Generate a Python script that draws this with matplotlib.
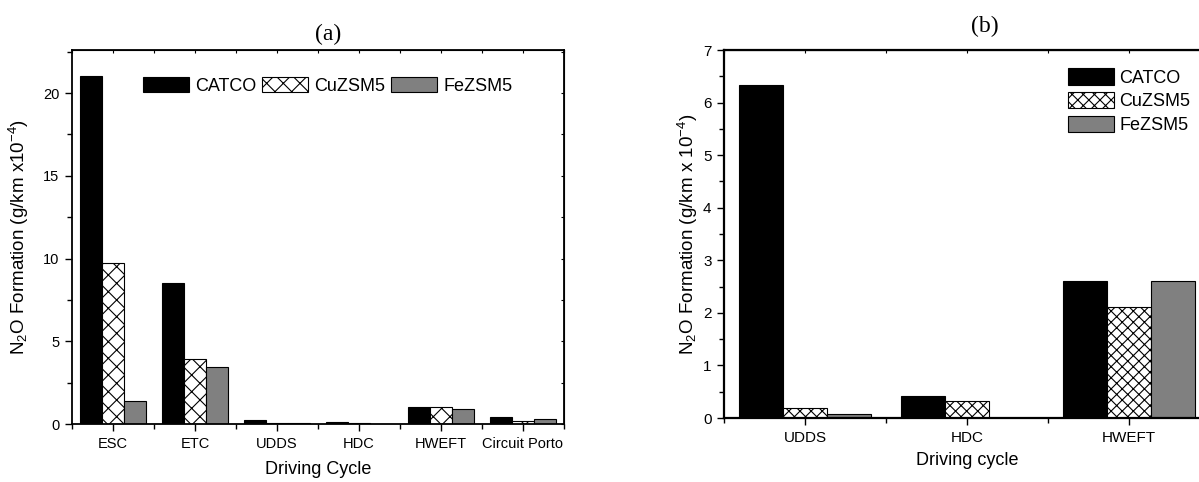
import numpy as np
import matplotlib
matplotlib.use("Agg")
import matplotlib.pyplot as plt
from matplotlib.ticker import MultipleLocator

plt.rcParams['font.family'] = ['Liberation Sans', 'DejaVu Sans']
plt.rcParams['mathtext.fontset'] = 'custom'
plt.rcParams['mathtext.rm'] = 'Liberation Sans'
plt.rcParams['mathtext.default'] = 'regular'
plt.rcParams['hatch.linewidth'] = 0.8

series = ['CATCO', 'CuZSM5', 'FeZSM5']

# panel (a)
cycles_a = ['ESC', 'ETC', 'UDDS', 'HDC', 'HWEFT', 'Circuit Porto']
catco_a = [21.0, 8.5, 0.22, 0.1, 1.05, 0.43]
cuzsm5_a = [9.75, 3.92, 0.08, 0.08, 1.05, 0.2]
fezsm5_a = [1.4, 3.45, 0.08, 0.0, 0.93, 0.32]

# panel (b)
cycles_b = ['UDDS', 'HDC', 'HWEFT']
catco_b = [6.33, 0.41, 2.6]
cuzsm5_b = [0.19, 0.32, 2.12]
fezsm5_b = [0.08, 0.0, 2.6]

W, H = 1199, 482
fig = plt.figure(figsize=(W / 100, H / 100), dpi=100)


def draw(ax, cycles, vals, hatch, ylim, ymaj, ymin, spine_lw):
    x = np.arange(len(cycles))
    w = 0.27
    ax.bar(x - w, vals[0], w, color='black', edgecolor='black', lw=0.8, label=series[0])
    ax.bar(x, vals[1], w, color='white', edgecolor='black', lw=0.8, hatch=hatch, label=series[1])
    ax.bar(x + w, vals[2], w, color='#808080', edgecolor='black', lw=0.8, label=series[2])
    ax.set_xlim(-0.5, len(cycles) - 0.5)
    ax.set_ylim(*ylim)
    ax.set_xticks(x)
    ax.set_xticklabels(cycles)
    ax.xaxis.set_minor_locator(MultipleLocator(0.5))
    ax.yaxis.set_major_locator(MultipleLocator(ymaj))
    ax.yaxis.set_minor_locator(MultipleLocator(ymin))
    ax.tick_params(which='major', direction='out', length=5, width=1.0)
    ax.tick_params(which='minor', direction='out', length=3.5, width=1.0)
    for s in ax.spines.values():
        s.set_linewidth(spine_lw)
    # inward ticks on top / right
    top = ax.secondary_xaxis('top')
    top.xaxis.set_major_locator(MultipleLocator(0.5))
    top.tick_params(direction='in', length=2.5, width=0.8, labeltop=False)
    right = ax.secondary_yaxis('right')
    right.yaxis.set_major_locator(MultipleLocator(ymin))
    right.tick_params(direction='in', length=2.5, width=0.8, labelright=False)
    return ax


# left panel: axes x 72-564, y 50-424 (px)
ax1 = fig.add_axes([72 / W, (H - 424) / H, 492 / W, 374 / H])
draw(ax1, cycles_a, [catco_a, cuzsm5_a, fezsm5_a], 'xx', (0, 22.6), 5, 2.5, 1.3)
ax1.tick_params(axis='both', which='major', labelsize=10.5, pad=4)
ax1.set_xlabel('Driving Cycle', fontsize=13)
ax1.xaxis.set_label_coords(0.5, -0.10)
ax1.set_ylabel(r'N$_2$O Formation (g/km x10$^{-4}$)', fontsize=13.5)
ax1.yaxis.set_label_coords(-0.083, 0.5)
ax1.legend(loc='center left', bbox_to_anchor=(0.1443, 0.904), ncol=3, frameon=False,
           fontsize=13, handlelength=2.55, handleheight=0.9, handletextpad=0.35,
           columnspacing=0.3, borderpad=0, borderaxespad=0)

# right panel: axes x 724-1210, y 50-418 (px)
ax2 = fig.add_axes([724 / W, (H - 418) / H, 486 / W, 368 / H])
draw(ax2, cycles_b, [catco_b, cuzsm5_b, fezsm5_b], 'xxx', (0, 7), 1, 0.5, 1.6)
ax2.tick_params(axis='both', which='major', labelsize=11, pad=4)
ax2.set_xlabel('Driving cycle', fontsize=13)
ax2.xaxis.set_label_coords(0.5, -0.093)
ax2.set_ylabel(r'N$_2$O Formation (g/km x 10$^{-4}$)', fontsize=13.5)
ax2.yaxis.set_label_coords(-0.05, 0.5)
ax2.legend(loc='upper left', bbox_to_anchor=(0.708, 0.95), ncol=1, frameon=False,
           fontsize=13, handlelength=2.55, handleheight=1.0, handletextpad=0.3,
           labelspacing=0.3, borderpad=0, borderaxespad=0)

fig.text(328 / W, 1 - 34 / H, '(a)', ha='center', va='center', fontsize=17, family='Liberation Serif')
fig.text(985 / W, 1 - 26 / H, '(b)', ha='center', va='center', fontsize=17, family='Liberation Serif')

fig.savefig('out.png', dpi=100)
